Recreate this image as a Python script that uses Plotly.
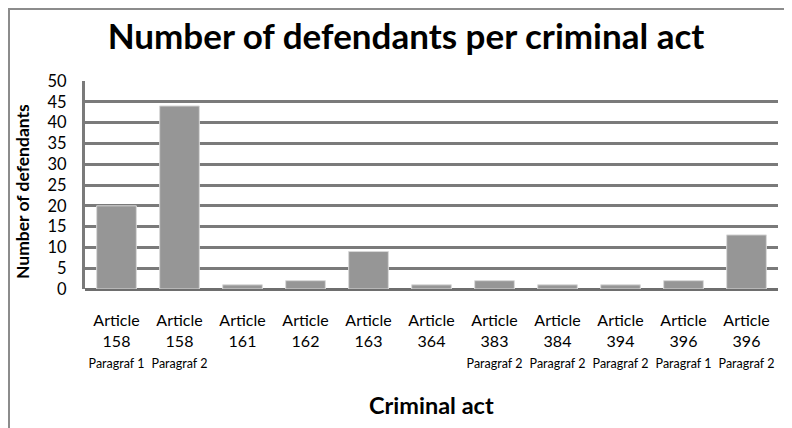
import plotly.graph_objects as go

articles = ["158", "158", "161", "162", "163", "364", "383", "384", "394", "396", "396"]
paragraphs = ["Paragraf 1", "Paragraf 2", "", "", "", "", "Paragraf 2", "Paragraf 2", "Paragraf 2", "Paragraf 1", "Paragraf 2"]
defendants = [20, 44, 1, 2, 9, 1, 2, 1, 1, 2, 13]
y_ticks = [0, 5, 10, 15, 20, 25, 30, 35, 40, 45, 50]

cats = [f"c{i}" for i in range(len(articles))]
ticktext = []
for a, p in zip(articles, paragraphs):
    t = f"Article<br>{a}<br><span style='font-size:12.5px'>{p if p else '&nbsp;'}</span>"
    ticktext.append(t)

FONT = "Lato"
GRID = "#7a7a7a"

# page body has an 8px margin; work in reference pixel coords and shift
OFF = 8
W, H = 792 - OFF, 428 - OFF
PL, PR, PT, PB = 85, 778, 81, 289  # plot area in reference pixels
L = PL - OFF
T = PT - OFF
R = W - (PR - OFF)
B = H - (PB - OFF)
pw, ph = PR - PL, PB - PT


def px(xr):
    return (xr - PL) / pw


def py(yr):
    return (PB - yr) / ph


fig = go.Figure()
fig.add_trace(go.Bar(
    x=cats, y=defendants,
    marker=dict(color="#969696", line=dict(color="#d8d8d8", width=1)),
    width=0.63,
))

fig.update_layout(
    width=W, height=H,
    margin=dict(l=L, r=R, t=T, b=B, autoexpand=False),
    paper_bgcolor="white", plot_bgcolor="white",
    showlegend=False,
    font=dict(family=FONT, color="black"),
    title=dict(text="<b>Number of defendants per criminal act</b>",
               x=(406 - OFF) / W, xanchor="center", xref="container",
               y=1 - (37 - OFF) / H, yanchor="middle", yref="container",
               font=dict(family=FONT, size=35, color="black")),
    xaxis=dict(
        tickmode="array", tickvals=cats, ticktext=ticktext,
        tickfont=dict(family=FONT, size=16, color="black"),
        showgrid=False, showline=False, zeroline=False,
        ticks="", ticklabelstandoff=20,
        range=[-0.5, len(cats) - 0.5],
    ),
    yaxis=dict(
        range=[0, 50], tickvals=y_ticks,
        tickfont=dict(family=FONT, size=16.5, color="black"),
        showgrid=True, gridcolor=GRID, gridwidth=3,
        zeroline=True, zerolinecolor="#6e6e6e", zerolinewidth=3,
        showline=True, linecolor=GRID, linewidth=3,
        ticks="", ticklabelstandoff=12,
    ),
    annotations=[
        dict(text="<b>Number of defendants</b>", textangle=-90,
             x=px(22), xref="paper", xanchor="center",
             y=py(192), yref="paper", yanchor="middle",
             showarrow=False, font=dict(family=FONT, size=17.5, color="black")),
        dict(text="<b>Criminal act</b>",
             x=px(432), xref="paper", xanchor="center",
             y=py(405), yref="paper", yanchor="middle",
             showarrow=False, font=dict(family=FONT, size=23.5, color="black")),
    ],
)

# outer frame (left and top edges visible)
fig.add_shape(type="rect", xref="paper", yref="paper",
              x0=px(OFF + 1), x1=px(840), y0=py(480), y1=py(OFF + 1),
              line=dict(color="#8c8c8c", width=2), fillcolor="rgba(0,0,0,0)", layer="below")

fig.write_html("out.html")
